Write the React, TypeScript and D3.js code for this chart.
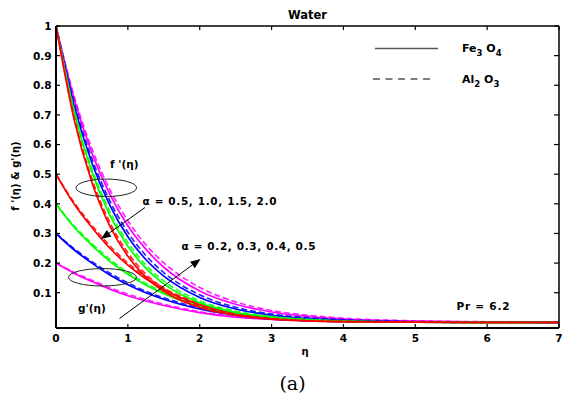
import React from "react";
import * as d3 from "d3";

const W = 582;
const H = 401;

const etaGrid = [0, 0.25, 0.5, 0.75, 1, 1.25, 1.5, 2, 2.5, 3, 3.5, 4, 5, 6, 7];

// f'(eta) for alpha = 0.5, 1.0, 1.5, 2.0 (Fe3O4 solid, Al2O3 dashed)
const fRedFe = [1, 0.687, 0.472, 0.325, 0.223, 0.153, 0.105, 0.05, 0.024, 0.011, 0.005, 0.0025, 0.001, 0, 0];
const fRedAl = [1, 0.696, 0.484, 0.337, 0.235, 0.163, 0.114, 0.055, 0.027, 0.013, 0.006, 0.003, 0.001, 0, 0];
const fGreenFe = [1, 0.712, 0.507, 0.361, 0.257, 0.183, 0.13, 0.066, 0.033, 0.017, 0.009, 0.004, 0.001, 0, 0];
const fGreenAl = [1, 0.721, 0.519, 0.374, 0.27, 0.194, 0.14, 0.073, 0.038, 0.02, 0.01, 0.005, 0.001, 0, 0];
const fBlueFe = [1, 0.733, 0.538, 0.395, 0.289, 0.212, 0.156, 0.084, 0.045, 0.024, 0.013, 0.007, 0.002, 0.001, 0];
const fBlueAl = [1, 0.743, 0.552, 0.41, 0.304, 0.226, 0.168, 0.093, 0.051, 0.028, 0.016, 0.009, 0.003, 0.001, 0];
const fMagFe = [1, 0.756, 0.571, 0.432, 0.326, 0.247, 0.186, 0.106, 0.061, 0.035, 0.02, 0.011, 0.004, 0.001, 0];
const fMagAl = [1, 0.765, 0.586, 0.448, 0.343, 0.262, 0.201, 0.118, 0.069, 0.04, 0.024, 0.014, 0.005, 0.002, 0];

// g'(eta) for alpha = 0.5, 0.4, 0.3, 0.2
const gRedFe = [0.5, 0.4, 0.32, 0.25, 0.193, 0.147, 0.11, 0.06, 0.03, 0.015, 0.007, 0.003, 0.001, 0, 0];
const gRedAl = [0.5, 0.405, 0.327, 0.258, 0.2, 0.154, 0.116, 0.064, 0.033, 0.017, 0.008, 0.004, 0.001, 0, 0];
const gGreenFe = [0.4, 0.322, 0.26, 0.206, 0.162, 0.126, 0.097, 0.054, 0.028, 0.014, 0.007, 0.003, 0.001, 0, 0];
const gGreenAl = [0.4, 0.326, 0.266, 0.213, 0.168, 0.132, 0.102, 0.058, 0.031, 0.016, 0.008, 0.004, 0.001, 0, 0];
const gBlueFe = [0.3, 0.245, 0.2, 0.16, 0.127, 0.1, 0.078, 0.045, 0.024, 0.012, 0.006, 0.003, 0.001, 0, 0];
const gBlueAl = [0.3, 0.249, 0.205, 0.166, 0.133, 0.105, 0.083, 0.049, 0.027, 0.014, 0.007, 0.004, 0.001, 0, 0];
const gMagFe = [0.2, 0.166, 0.138, 0.112, 0.09, 0.072, 0.057, 0.033, 0.018, 0.01, 0.005, 0.003, 0.001, 0, 0];
const gMagAl = [0.2, 0.169, 0.142, 0.117, 0.095, 0.077, 0.061, 0.036, 0.02, 0.011, 0.006, 0.003, 0.001, 0, 0];

const xTicks = [0, 1, 2, 3, 4, 5, 6, 7];
const yTicks = [0.1, 0.2, 0.3, 0.4, 0.5, 0.6, 0.7, 0.8, 0.9, 1];

const RED = "#ff0000";
const GREEN = "#00ff00";
const BLUE = "#0000ff";
const MAG = "#ff00ff";

const series = [
  { v: gMagFe, c: MAG, d: false },
  { v: gMagAl, c: MAG, d: true },
  { v: gBlueFe, c: BLUE, d: false },
  { v: gBlueAl, c: BLUE, d: true },
  { v: gGreenFe, c: GREEN, d: false },
  { v: gGreenAl, c: GREEN, d: true },
  { v: gRedFe, c: RED, d: false },
  { v: gRedAl, c: RED, d: true },
  { v: fMagAl, c: MAG, d: true },
  { v: fMagFe, c: MAG, d: false },
  { v: fBlueAl, c: BLUE, d: true },
  { v: fBlueFe, c: BLUE, d: false },
  { v: fGreenAl, c: GREEN, d: true },
  { v: fGreenFe, c: GREEN, d: false },
  { v: fRedAl, c: RED, d: true },
  { v: fRedFe, c: RED, d: false },
];

const FONT = "'DejaVu Sans', Verdana, sans-serif";

export default function App() {
  const left = 56, right = 559, top = 26, bottom = 328;
  const x = d3.scaleLinear().domain([0, 7]).range([left, right]);
  const y = d3.scaleLinear().domain([-0.019, 1]).range([bottom, top]);
  const line = d3
    .line<number>()
    .x((_, i) => x(etaGrid[i]))
    .y((d) => y(d))
    .curve(d3.curveMonotoneX);

  const arrow = (x1: number, y1: number, x2: number, y2: number) => {
    const ang = Math.atan2(y2 - y1, x2 - x1);
    const L = 10, Wd = 4;
    const bx = x2 - L * Math.cos(ang), by = y2 - L * Math.sin(ang);
    const px = -Math.sin(ang) * Wd, py = Math.cos(ang) * Wd;
    return (
      <g>
        <line x1={x1} y1={y1} x2={bx} y2={by} stroke="#000" strokeWidth={1} />
        <path d={`M${x2},${y2}L${bx + px},${by + py}L${bx - px},${by - py}Z`} fill="#000" />
      </g>
    );
  };

  return (
    <svg width={W} height={H} style={{ position: "absolute", left: 0, top: 0, background: "#fff" }} fontFamily={FONT}>
      <rect x={0} y={0} width={W} height={H} fill="#fff" />
      <defs>
        <clipPath id="plot">
          <rect x={left} y={top} width={right - left} height={bottom - top} />
        </clipPath>
      </defs>
      <g clipPath="url(#plot)">
        {series.map((s, i) => (
          <path
            key={i}
            d={line(s.v) || ""}
            fill="none"
            stroke={s.c}
            strokeWidth={1.7}
            strokeDasharray={s.d ? "6,3" : undefined}
            opacity={s.d ? 0.85 : 1}
          />
        ))}
      </g>
      {/* frame */}
      <line x1={left} y1={top} x2={right} y2={top} stroke="#000" strokeWidth={1.5} />
      <line x1={right} y1={top} x2={right} y2={bottom} stroke="#000" strokeWidth={1.5} />
      <line x1={left} y1={top} x2={left} y2={bottom} stroke="#000" strokeWidth={2} />
      <line x1={left} y1={bottom} x2={right} y2={bottom} stroke="#000" strokeWidth={2} />
      {/* ticks */}
      {xTicks.map((t) => (
        <g key={"x" + t}>
          <line x1={x(t)} y1={bottom} x2={x(t)} y2={bottom - 4} stroke="#000" strokeWidth={1.2} />
          <line x1={x(t)} y1={top} x2={x(t)} y2={top + 4} stroke="#000" strokeWidth={1.2} />
          <text x={x(t)} y={341.5} textAnchor="middle" fontSize={10.5} fontWeight="bold">
            {t}
          </text>
        </g>
      ))}
      {yTicks.map((t) => (
        <g key={"y" + t}>
          <line x1={left} y1={y(t)} x2={left + 4} y2={y(t)} stroke="#000" strokeWidth={1.2} />
          <line x1={right} y1={y(t)} x2={right - 5} y2={y(t)} stroke="#000" strokeWidth={1.2} />
          <text x={51.5} y={y(t) + 3.9} textAnchor="end" fontSize={10.5} fontWeight="bold">
            {t === 1 ? "1" : t.toFixed(1)}
          </text>
        </g>
      ))}
      {/* title */}
      <text x={307.5} y={18.5} textAnchor="middle" fontSize={11.5} fontWeight="bold">
        Water
      </text>
      {/* axis labels */}
      <text x={305} y={355} textAnchor="middle" fontSize={10} fontWeight="bold">
        η
      </text>
      <text
        transform="translate(19,176) rotate(-90)"
        textAnchor="middle"
        fontSize={10}
        fontWeight="bold"
      >
        f '(η) &amp; g'(η)
      </text>
      {/* legend */}
      <line x1={375} y1={48.5} x2={438} y2={48.5} stroke="#555" strokeWidth={1.5} />
      <line x1={373} y1={79} x2={435} y2={79} stroke="#555" strokeWidth={1.5} strokeDasharray="7,5.5" />
      <text x={462} y={52} fontSize={11} fontWeight="bold">
        Fe<tspan fontSize={8.5} dy={4}>3</tspan>
        <tspan dy={-4}> O</tspan>
        <tspan fontSize={8.5} dy={4}>4</tspan>
      </text>
      <text x={462} y={83} fontSize={11} fontWeight="bold">
        Al<tspan fontSize={8.5} dy={4}>2</tspan>
        <tspan dy={-4}> O</tspan>
        <tspan fontSize={8.5} dy={4}>3</tspan>
      </text>
      {/* annotations */}
      <ellipse cx={106.3} cy={187.8} rx={30.3} ry={8.7} fill="none" stroke="#222" strokeWidth={1} />
      <ellipse cx={102.5} cy={277.3} rx={34} ry={8.7} fill="none" stroke="#222" strokeWidth={1} />
      <text x={110} y={167.5} fontSize={10.5} fontWeight="bold">
        f '(η)
      </text>
      <text x={78} y={312} fontSize={10.5} fontWeight="bold">
        g'(η)
      </text>
      <text x={142.5} y={204.5} fontSize={10.5} fontWeight="bold" textLength={134} lengthAdjust="spacing">
        α = 0.5, 1.0, 1.5, 2.0
      </text>
      <text x={181.5} y={249.5} fontSize={10.5} fontWeight="bold" textLength={134} lengthAdjust="spacing">
        α = 0.2, 0.3, 0.4, 0.5
      </text>
      <text x={456.5} y={309.5} fontSize={10.5} fontWeight="bold" textLength={53} lengthAdjust="spacing">
        Pr = 6.2
      </text>
      {arrow(145, 207.5, 101, 239)}
      {arrow(119.5, 318.5, 200.5, 259)}
      <text x={292.5} y={390} textAnchor="middle" fontSize={19} fontFamily="'DejaVu Serif', 'Liberation Serif', serif">
        (a)
      </text>
    </svg>
  );
}
